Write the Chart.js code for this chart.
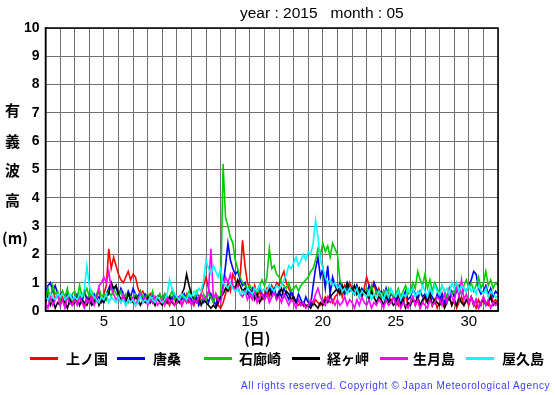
<!DOCTYPE html>
<html><head><meta charset="utf-8">
<script src="https://cdn.jsdelivr.net/npm/chart.js@4/dist/chart.umd.min.js"></script>
<style>
html,body{margin:0;padding:0;background:#fff;}
#wrap{position:relative;width:555px;height:395px;overflow:hidden;font-family:"Liberation Sans",Arial,sans-serif;}
#c{position:absolute;left:0;top:0;}
.t{position:absolute;white-space:pre;color:#000;}
.jp{font-family:"Noto Sans CJK JP","Noto Sans",sans-serif;font-weight:bold;}
.sw{position:absolute;height:3px;width:28px;}
</style></head><body>
<div id="wrap">
<canvas id="c" width="555" height="395"></canvas>
<div class="t" style="left:240px;top:4px;font-size:15.5px;">year : 2015   month : 05</div>
<div class="t jp" style="left:5px;top:99px;font-size:15px;">有</div>
<div class="t jp" style="left:5px;top:130px;font-size:15px;">義</div>
<div class="t jp" style="left:5px;top:159px;font-size:15px;">波</div>
<div class="t jp" style="left:5px;top:189px;font-size:15px;">高</div>
<div class="t jp" style="left:2px;top:227px;font-size:15px;">(m)</div>
<div class="t jp" style="left:244px;top:327px;font-size:15px;">(日)</div>
<div id="leg"></div>
<div class="t" style="left:241px;top:380px;font-size:10px;letter-spacing:0.62px;color:#3c3cff;">All rights reserved. Copyright © Japan Meteorological Agency</div>
</div>
<script>
const STATIONS = ["上ノ国","唐桑","石廊崎","経ヶ岬","生月島","屋久島"];
const COLORS = ["#ff0000","#0000ff","#00cc00","#000000","#ff00ff","#00ffff"];
const Y_TICKS = [0,1,2,3,4,5,6,7,8,9,10];
const X_TICK_LABELS = [5,10,15,20,25,30];
const POINTS_PER_DAY = 6;

const kaminokuni = [
0.3,0.7,0.5,0.8,0.4,0.6, 0.3,0.5,0.2,0.6,0.4,0.3, 0.5,0.3,0.6,0.4,0.2,0.5, 0.4,0.6,0.3,0.5,0.7,0.4,
0.6,0.9,2.2,1.5,1.9,1.6, 1.3,1.1,1.0,1.2,1.4,1.1, 1.3,1.2,0.8,0.6,0.7,0.5, 0.4,0.6,0.3,0.5,0.4,0.6,
0.3,0.5,0.4,0.2,0.5,0.4, 0.3,0.5,0.2,0.4,0.6,0.3, 0.4,0.2,0.5,0.3,0.6,0.9, 1.2,0.8,0.5,0.3,0.6,0.2,
0.1,0.3,0.6,1.0,0.7,1.3, 1.1,0.8,1.2,2.5,1.6,1.0, 0.8,0.6,0.9,0.5,0.7,0.4, 0.6,0.8,0.5,0.9,0.7,1.0,
0.9,1.2,1.4,1.0,0.8,0.6, 0.4,0.3,0.2,0.3,0.2,0.15, 0.2,0.3,0.2,0.4,0.3,0.2, 0.3,0.5,0.4,0.6,0.3,0.5,
0.6,0.8,0.5,0.9,0.7,1.0, 0.8,0.6,0.9,0.7,0.5,0.8, 1.2,0.9,0.7,1.0,0.6,0.8, 0.5,0.7,0.4,0.6,0.3,0.5,
0.4,0.2,0.5,0.3,0.6,0.2, 0.3,0.5,0.2,0.4,0.1,0.3, 0.5,0.3,0.6,0.2,0.4,0.1, 0.3,0.6,0.2,0.4,0.5,0.2,
0.4,0.1,0.3,0.5,0.2,0.4, 0.2,0.5,0.3,0.1,0.4,0.2, 0.5,0.3,0.2,0.6,0.3,0.4, 0.3];
const karakuwa = [
0.6,0.9,1.0,0.7,0.9,0.6, 0.5,0.7,0.4,0.6,0.3,0.5, 0.4,0.6,0.5,0.3,0.7,0.4, 0.5,0.3,0.6,0.4,0.5,0.3,
0.4,0.6,0.8,1.0,0.7,0.9, 0.5,0.8,0.6,0.4,0.7,0.5, 0.8,0.6,0.5,0.7,0.4,0.6, 0.5,0.3,0.6,0.4,0.5,0.3,
0.4,0.6,0.3,0.5,0.4,0.6, 0.3,0.5,0.4,0.6,0.3,0.5, 0.4,0.3,0.5,0.2,0.4,0.3, 0.5,0.3,0.6,0.4,0.2,0.5,
0.4,0.9,1.6,2.4,1.8,1.5, 1.3,1.4,1.1,0.9,1.0,0.7, 0.6,0.8,0.5,0.7,0.9,0.6, 0.5,0.7,0.9,0.6,0.8,0.5,
0.7,0.5,0.8,0.6,0.4,0.7, 0.5,0.3,0.6,0.4,0.2,0.5, 0.3,0.2,0.9,1.5,1.9,1.2, 1.5,0.8,1.6,0.6,1.2,0.9,
0.7,1.0,0.8,0.6,0.9,0.7, 0.8,0.6,0.9,0.5,0.8,0.7, 0.6,0.9,0.7,1.0,0.8,0.6, 0.7,0.5,0.8,0.4,0.6,0.5,
0.4,0.6,0.3,0.5,0.7,0.4, 0.5,0.8,0.6,0.4,0.7,0.5, 0.6,0.4,0.7,0.5,0.3,0.6, 0.4,0.6,0.3,0.5,0.4,0.7,
0.5,0.7,0.9,0.6,0.8,0.7, 0.9,1.1,1.4,1.3,0.8,0.6, 0.7,0.9,0.6,0.8,0.5,0.7, 0.6];
const irozaki = [
0.5,0.8,0.4,0.9,0.6,0.7, 0.4,0.7,0.5,0.8,0.3,0.6, 0.7,0.4,0.9,0.5,0.6,0.8, 0.5,0.7,0.4,0.6,0.8,0.5,
0.6,0.4,0.7,0.5,0.8,0.6, 0.5,0.7,0.4,0.6,0.3,0.5, 0.4,0.6,0.3,0.7,0.5,0.4, 0.6,0.4,0.7,0.3,0.5,0.6,
0.4,0.6,0.3,0.5,0.7,0.4, 0.5,0.3,0.6,0.4,0.5,0.7, 0.6,0.4,0.7,0.5,0.3,0.6, 0.4,0.6,0.5,0.3,0.6,0.5,
0.5,5.2,3.3,3.0,2.6,2.4, 1.8,1.5,1.2,1.0,0.9,0.8, 0.9,0.7,0.8,0.6,0.9,1.1, 0.9,1.2,2.2,1.5,1.6,1.3,
1.2,1.0,0.9,0.8,1.0,0.7, 0.8,0.9,0.7,0.9,1.0,1.1, 1.2,1.4,1.5,1.8,2.2,2.0, 2.4,2.1,2.3,1.9,2.4,2.2,
2.0,1.1,0.9,0.7,1.0,0.8, 0.7,0.9,0.6,0.8,0.5,0.7, 0.8,0.6,0.9,0.5,0.7,0.6, 0.5,0.7,0.4,0.8,0.6,0.5,
0.6,0.8,0.5,0.7,0.9,0.6, 0.7,1.0,0.8,1.4,1.1,0.9, 1.3,0.8,1.1,0.7,1.0,0.8, 0.6,0.9,0.7,0.5,0.8,0.6,
0.7,1.0,0.8,0.6,0.9,1.1, 0.8,1.0,0.7,0.9,1.2,0.8, 1.0,1.4,0.9,1.1,0.8,1.0, 0.9];
const kyogamisaki = [
0.3,0.5,0.2,0.4,0.1,0.3, 0.2,0.4,0.3,0.1,0.4,0.2, 0.3,0.5,0.2,0.4,0.3,0.2, 0.4,0.2,0.3,0.5,0.2,0.4,
0.3,0.5,0.6,1.0,0.8,0.9, 0.6,0.4,0.5,0.3,0.6,0.4, 0.3,0.5,0.4,0.2,0.4,0.3, 0.5,0.3,0.4,0.2,0.5,0.3,
0.2,0.4,0.3,0.5,0.3,0.2, 0.4,0.3,0.6,0.8,1.3,0.9, 0.6,0.4,0.3,0.5,0.2,0.4, 0.3,0.2,0.1,0.2,0.1,0.3,
0.5,0.6,0.8,0.7,1.0,0.9, 0.8,1.1,0.9,0.7,0.8,0.6, 0.5,0.7,0.4,0.6,0.3,0.5, 0.4,0.6,0.8,0.5,0.7,0.4,
0.6,0.8,0.5,0.7,0.6,0.4, 0.5,0.3,0.4,0.2,0.3,0.2, 0.2,0.1,0.3,0.2,0.1,0.3, 0.2,0.4,0.3,0.5,0.6,0.7,
0.8,0.6,0.9,0.7,1.0,0.8, 0.7,0.9,0.6,0.8,0.5,0.7, 0.6,0.4,0.7,0.5,0.3,0.5, 0.4,0.2,0.5,0.3,0.4,0.2,
0.3,0.5,0.2,0.4,0.1,0.3, 0.2,0.4,0.3,0.5,0.2,0.4, 0.5,0.3,0.6,0.2,0.4,0.3, 0.2,0.4,0.1,0.3,0.5,0.2,
0.4,0.2,0.5,0.3,0.2,0.4, 0.3,0.5,0.2,0.4,0.1,0.3, 0.4,0.2,0.3,0.5,0.2,0.3, 0.2];
const ikitsukishima = [
0.3,0.1,0.5,0.2,0.4,0.6, 0.2,0.4,0.1,0.5,0.3,0.2, 0.4,0.2,0.5,0.3,0.1,0.4, 0.3,0.5,0.2,0.4,0.9,1.0,
1.2,1.0,1.4,0.8,0.6,0.4, 0.5,0.3,0.6,0.2,0.4,0.3, 0.5,0.2,0.4,0.6,0.3,0.5, 0.2,0.4,0.3,0.5,0.2,0.3,
0.4,0.2,0.5,0.3,0.4,0.2, 0.3,0.5,0.2,0.4,0.3,0.5, 0.2,0.4,0.3,0.5,0.6,0.4, 0.5,0.7,2.2,0.5,0.6,0.4,
0.3,0.8,1.2,1.0,1.3,0.9, 0.7,0.9,0.6,0.5,0.7,0.4, 0.6,0.4,0.7,0.3,0.5,0.6, 0.4,0.6,0.3,0.5,0.7,0.4,
0.5,0.3,0.6,0.4,0.2,0.4, 0.3,0.1,0.4,0.2,0.3,0.1, 0.2,0.4,0.3,0.6,0.8,0.5, 0.3,0.2,0.5,0.3,0.4,0.2,
0.4,0.2,0.3,0.5,0.2,0.4, 0.3,0.1,0.4,0.2,0.5,0.3, 0.2,0.4,0.1,0.3,0.2,0.4, 0.3,0.1,0.4,0.2,0.3,0.5,
0.2,0.4,0.1,0.3,0.2,0.1, 0.3,0.5,0.2,0.4,0.1,0.3, 0.2,0.1,0.4,0.2,0.3,0.5, 0.4,0.2,0.6,0.3,0.8,0.5,
0.3,0.9,0.5,1.1,0.4,0.6, 0.3,0.5,0.2,0.4,0.1,0.3, 0.5,0.2,0.4,0.1,0.3,0.2, 0.3];
const yakushima = [
0.5,0.4,0.6,0.5,0.4,0.6, 0.5,0.6,0.4,0.5,0.6,0.4, 0.5,0.4,0.6,0.5,0.8,1.6, 0.9,0.6,0.5,0.4,0.3,0.5,
0.4,0.6,0.3,0.5,0.4,0.3, 0.5,0.3,0.4,0.2,0.4,0.3, 0.4,0.2,0.3,0.5,0.3,0.4, 0.3,0.5,0.4,0.3,0.5,0.4,
0.3,0.4,0.6,1.1,0.8,0.6, 0.5,0.4,0.6,0.5,0.4,0.6, 0.5,0.7,0.6,0.8,0.7,1.1, 1.8,1.5,1.3,1.6,1.4,1.2,
1.5,1.0,0.9,0.8,1.0,0.8, 0.7,0.8,0.6,0.7,0.6,0.8, 0.7,0.6,0.8,0.7,0.9,0.7, 0.8,0.7,0.9,0.8,0.7,0.9,
0.8,0.9,1.1,1.3,1.6,1.5, 1.7,1.9,1.6,1.8,2.0,1.8, 2.1,2.0,2.4,3.2,2.6,1.8, 1.5,1.2,1.0,1.1,0.9,1.0,
0.8,0.9,0.7,0.8,0.6,0.8, 0.7,0.6,0.8,0.5,0.7,0.6, 0.5,0.7,0.4,0.6,0.5,0.7, 0.6,0.4,0.7,0.5,0.8,0.6,
0.5,0.7,0.4,0.6,0.5,0.8, 0.6,0.8,0.5,0.7,0.6,0.9, 0.7,0.5,0.8,0.6,0.9,0.7, 0.6,0.9,0.7,0.8,0.6,1.0,
0.8,1.0,0.7,0.9,0.8,0.7, 0.9,0.7,0.8,0.6,0.9,0.7, 0.6,0.8,0.5,0.7,0.6,0.5, 0.5];

const SERIES = [kaminokuni, karakuwa, irozaki, kyogamisaki, ikitsukishima, yakushima];

// legend (HTML)
const LEG_LINE_X = [30,117,204,292,380,466];
const LEG_TEXT_X = [66,153,239,327,413,502];
const leg = document.getElementById('leg');
STATIONS.forEach((s,i)=>{
  const sw = document.createElement('div');
  sw.className='sw'; sw.style.left=LEG_LINE_X[i]+'px'; sw.style.top='357px'; sw.style.background=COLORS[i];
  leg.appendChild(sw);
  const t = document.createElement('div');
  t.className='t jp'; t.style.left=LEG_TEXT_X[i]+'px'; t.style.top='348px'; t.style.fontSize='14px';
  t.textContent=s; leg.appendChild(t);
});

const datasets = SERIES.map((arr,i)=>({
  label: STATIONS[i],
  data: arr.map((v,k)=>({x: 1 + k/POINTS_PER_DAY, y: v})),
  borderColor: COLORS[i],
  backgroundColor: COLORS[i],
  borderWidth: 1.6,
  pointRadius: 0,
  tension: 0,
  order: SERIES.length - 1 - i
}));

new Chart(document.getElementById('c'), {
  type: 'line',
  data: { datasets },
  options: {
    responsive: false,
    animation: false,
    events: [],
    layout: { padding: { top: 28, right: 57, left: 0, bottom: 0 } },
    plugins: { legend: { display: false }, tooltip: { enabled: false }, title: { display: false } },
    scales: {
      x: {
        type: 'linear', min: 1, max: 32,
        afterFit: s => { s.height = 84; },
        afterBuildTicks: s => { s.ticks = []; for (let d = 1; d <= 32; d++) s.ticks.push({value: d}); },
        ticks: {
          autoSkip: false, maxRotation: 0, padding: 2, color: '#000',
          font: { family: '"Liberation Sans", Arial, sans-serif', size: 15 },
          callback: v => X_TICK_LABELS.includes(v) ? String(v) : ''
        },
        grid: { color: '#707070', lineWidth: 1, tickLength: 0, drawTicks: false },
        border: { color: '#000', width: 1.5 }
      },
      y: {
        min: 0, max: 10,
        afterFit: s => { s.width = 45.5; },
        afterBuildTicks: s => { s.ticks = Y_TICKS.map(v => ({value: v})); },
        ticks: {
          padding: 6, color: '#000',
          font: { family: '"Liberation Sans", Arial, sans-serif', size: 14, weight: 'bold' }
        },
        grid: { color: '#707070', lineWidth: 1, drawTicks: false },
        border: { color: '#000', width: 1.5 }
      }
    }
  },
  plugins: [{
    id: 'frame',
    afterDatasetsDraw(chart) {
      const {ctx, chartArea: a} = chart;
      ctx.save(); ctx.strokeStyle = '#000'; ctx.lineWidth = 1.5;
      ctx.strokeRect(a.left, a.top, a.right - a.left, a.bottom - a.top);
      ctx.restore();
    }
  }]
});
</script>
</body></html>
